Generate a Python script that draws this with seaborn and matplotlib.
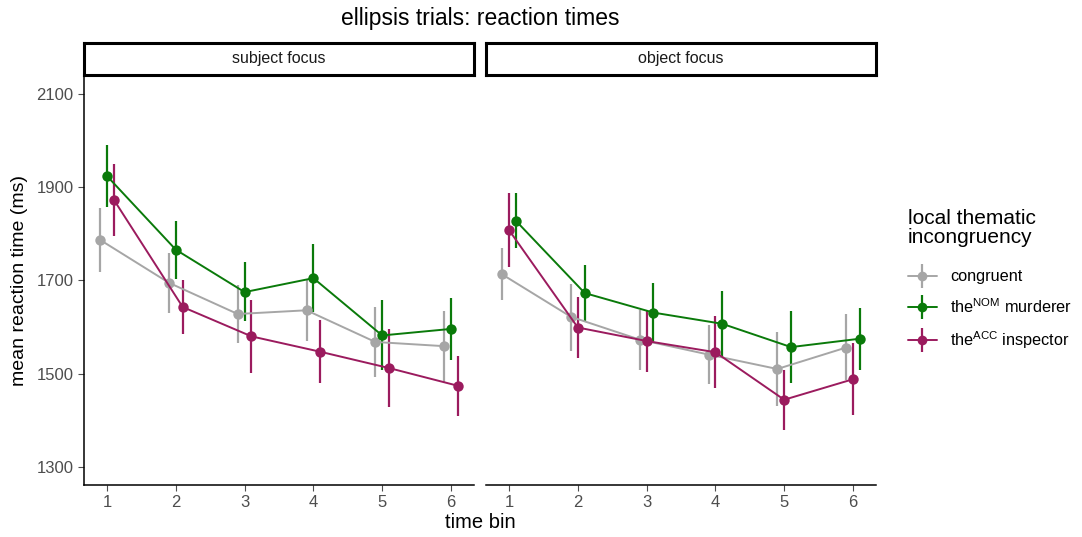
import numpy as np
import pandas as pd
import matplotlib
matplotlib.use("Agg")
import matplotlib.pyplot as plt
import seaborn as sns
from matplotlib.lines import Line2D
from matplotlib.legend_handler import HandlerTuple

# ---- data ----
time_bins = [1, 2, 3, 4, 5, 6]
panels = ["subject focus", "object focus"]
conditions = ["congruent", "NOM", "ACC"]
condition_labels = {
    "congruent": "congruent",
    "NOM": r"the$^{\mathrm{NOM}}$ murderer",
    "ACC": r"the$^{\mathrm{ACC}}$ inspector",
}

# subject focus
subj_congruent = [1787, 1695, 1628, 1636, 1568, 1559]
subj_congruent_lo = [1718, 1631, 1565, 1571, 1492, 1483]
subj_congruent_hi = [1855, 1760, 1690, 1701, 1644, 1635]
subj_nom = [1924, 1766, 1675, 1705, 1582, 1596]
subj_nom_lo = [1858, 1703, 1612, 1632, 1507, 1530]
subj_nom_hi = [1990, 1828, 1739, 1778, 1658, 1663]
subj_acc = [1873, 1643, 1580, 1547, 1512, 1474]
subj_acc_lo = [1795, 1586, 1501, 1479, 1429, 1410]
subj_acc_hi = [1951, 1700, 1658, 1615, 1596, 1537]

# object focus
obj_congruent = [1713, 1622, 1573, 1541, 1510, 1556]
obj_congruent_lo = [1657, 1549, 1508, 1477, 1430, 1487]
obj_congruent_hi = [1769, 1693, 1637, 1605, 1589, 1627]
obj_nom = [1828, 1673, 1631, 1607, 1557, 1575]
obj_nom_lo = [1769, 1612, 1567, 1535, 1480, 1508]
obj_nom_hi = [1887, 1733, 1695, 1678, 1634, 1641]
obj_acc = [1808, 1599, 1570, 1546, 1444, 1488]
obj_acc_lo = [1728, 1533, 1504, 1469, 1379, 1411]
obj_acc_hi = [1887, 1665, 1635, 1623, 1508, 1565]

# dodge order per panel (left to right within a bin)
dodge_order = {
    "subject focus": ["congruent", "NOM", "ACC"],
    "object focus": ["congruent", "ACC", "NOM"],
}

palette = {"congruent": "#A6A6A6", "NOM": "#0A7A0A", "ACC": "#9B1B5E"}

rows = []
series = {
    ("subject focus", "congruent"): (subj_congruent, subj_congruent_lo, subj_congruent_hi),
    ("subject focus", "NOM"): (subj_nom, subj_nom_lo, subj_nom_hi),
    ("subject focus", "ACC"): (subj_acc, subj_acc_lo, subj_acc_hi),
    ("object focus", "congruent"): (obj_congruent, obj_congruent_lo, obj_congruent_hi),
    ("object focus", "NOM"): (obj_nom, obj_nom_lo, obj_nom_hi),
    ("object focus", "ACC"): (obj_acc, obj_acc_lo, obj_acc_hi),
}
for (panel, cond), (m, lo, hi) in series.items():
    off = (dodge_order[panel].index(cond) - 1) * 0.1
    for t, v, l, h in zip(time_bins, m, lo, hi):
        rows.append(dict(panel=panel, condition=cond, bin=t, x=t + off, rt=v, lo=l, hi=h))
df = pd.DataFrame(rows)

# ---- plot ----
sns.set_theme(style="ticks")
plt.rcParams["font.family"] = ["Liberation Sans", "DejaVu Sans"]
plt.rcParams["mathtext.fontset"] = "custom"
plt.rcParams["mathtext.rm"] = "Liberation Sans"
plt.rcParams["text.color"] = "black"

fig = plt.figure(figsize=(10.82, 5.37), dpi=100)
ax_w, ax_h, ax_b = 390 / 1082, 410 / 537, 1 - 485 / 537
lefts = [84 / 1082, 486 / 1082]
strip_h = 32 / 537

for i, panel in enumerate(panels):
    ax = fig.add_axes([lefts[i], ax_b, ax_w, ax_h])
    d = df[df.panel == panel]
    for cond in conditions:
        dc = d[d.condition == cond]
        ax.vlines(dc.x, dc.lo, dc.hi, color=palette[cond], lw=1.6, zorder=2)
    sns.lineplot(data=d, x="x", y="rt", hue="condition", hue_order=conditions,
                 palette=palette, marker="o", markersize=7.5, markeredgewidth=0,
                 lw=1.4, estimator=None, errorbar=None, legend=False, ax=ax, zorder=3)
    ax.set_xlim(0.665, 6.335)
    ax.set_ylim(1261, 2141)
    ax.set_xticks(time_bins)
    ax.set_yticks([1300, 1500, 1700, 1900, 2100])
    ax.set_xlabel("")
    ax.set_ylabel("")
    ax.tick_params(colors="#4D4D4D", labelsize=12, length=4, width=0.8)
    for s in ["top", "right"]:
        ax.spines[s].set_visible(False)
    ax.spines["bottom"].set_linewidth(1.1)
    ax.spines["left"].set_linewidth(1.1)
    ax.spines["bottom"].set_color("black")
    ax.spines["left"].set_color("black")
    if i == 1:
        ax.spines["left"].set_visible(False)
        ax.tick_params(axis="y", left=False, labelleft=False)
    # facet strip
    sax = fig.add_axes([lefts[i], ax_b + ax_h, ax_w, strip_h])
    sax.set_xticks([])
    sax.set_yticks([])
    for s in sax.spines.values():
        s.set_linewidth(2.2)
        s.set_color("black")
    sax.text(0.5, 0.5, panel, ha="center", va="center", fontsize=11.5,
             color="#1A1A1A", transform=sax.transAxes)

fig.text((84 + 876) / 2 / 1082, 1 - 19 / 537, "ellipsis trials: reaction times",
         ha="center", va="center", fontsize=16.5)
fig.text((84 + 876) / 2 / 1082, 1 - 522 / 537, "time bin", ha="center", va="center", fontsize=14.5)
fig.text(20 / 1082, ax_b + ax_h / 2, "mean reaction time (ms)", ha="center", va="center",
         rotation=90, fontsize=14)

handles = []
for cond in conditions:
    c = palette[cond]
    handles.append((Line2D([], [], color=c, lw=1.4),
                    Line2D([], [], color=c, marker="|", markersize=17, markeredgewidth=1.6, ls="none"),
                    Line2D([], [], color=c, marker="o", markersize=7, markeredgewidth=0, ls="none")))
leg = fig.legend(handles, [condition_labels[c] for c in conditions],
                 handler_map={tuple: HandlerTuple(ndivide=1, pad=0)},
                 title="local thematic\nincongruency", loc="upper left",
                 bbox_to_anchor=(893 / 1082, 1 - 194 / 537), frameon=False,
                 fontsize=11.7, title_fontsize=15, handlelength=1.8,
                 labelspacing=0.8, handletextpad=0.8)
leg._legend_box.align = "left"
leg._legend_box.sep += 7
leg.get_title().set_linespacing(1.0)

fig.savefig("out.png", dpi=100)
